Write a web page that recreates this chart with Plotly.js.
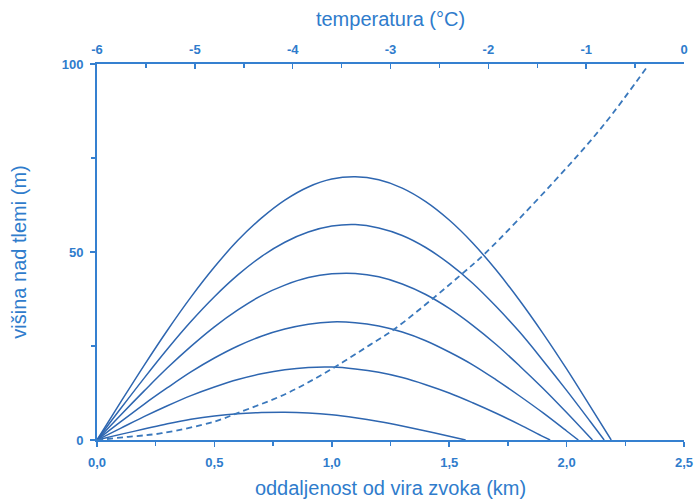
<!DOCTYPE html>
<html>
<head>
<meta charset="utf-8">
<script src="https://cdn.plot.ly/plotly-3.0.1.min.js"></script>
<style>html,body{margin:0;padding:0;background:#fff;}#chart{width:698px;height:502px;}</style>
</head>
<body>
<div id="chart"></div>
<script>
// Ray paths: distance (km) vs height (m)
const ray1X = [0,0.1,0.2,0.3,0.4,0.5,0.6,0.7,0.8,0.9,1.0,1.1,1.2,1.3,1.4,1.5,1.6,1.7,1.8,1.9,2.0,2.1,2.19];
const ray1Y = [0,10.0,19.8,29.2,38.0,46.0,53.1,59.0,63.8,67.3,69.4,70.0,69.2,67.0,63.4,58.5,52.4,45.2,37.1,28.3,18.9,9.0,0];
const ray2X = [0,0.1,0.2,0.3,0.4,0.5,0.6,0.7,0.8,0.9,1.0,1.1,1.2,1.3,1.4,1.5,1.6,1.7,1.8,1.9,2.0,2.1,2.16];
const ray2Y = [0,8.3,16.4,24.2,31.5,38.1,43.9,48.8,52.6,55.3,56.9,57.3,56.4,54.4,51.2,46.9,41.7,35.5,28.7,21.1,13.2,5.0,0];
const ray3X = [0,0.1,0.2,0.3,0.4,0.5,0.6,0.7,0.8,0.9,1.0,1.1,1.2,1.3,1.4,1.5,1.6,1.7,1.8,1.9,2.0,2.11];
const ray3Y = [0,6.6,13.0,19.2,24.9,30.1,34.6,38.4,41.2,43.2,44.2,44.3,43.4,41.5,38.7,35.0,30.5,25.4,19.7,13.7,7.3,0];
const ray4X = [0,0.1,0.2,0.3,0.4,0.5,0.6,0.7,0.8,0.9,1.0,1.1,1.2,1.3,1.4,1.5,1.6,1.7,1.8,1.9,2.0,2.05];
const ray4Y = [0,4.8,9.5,13.9,18.1,21.8,25.0,27.6,29.5,30.8,31.4,31.2,30.3,28.7,26.4,23.4,20.0,16.0,11.7,7.2,2.4,0];
const ray5X = [0,0.1,0.2,0.3,0.4,0.5,0.6,0.7,0.8,0.9,1.0,1.1,1.2,1.3,1.4,1.5,1.6,1.7,1.8,1.9,1.93];
const ray5Y = [0,3.1,6.2,9.1,11.8,14.1,16.1,17.6,18.7,19.3,19.4,18.9,18.0,16.6,14.7,12.5,9.9,7.1,4.1,0.9,0];
const ray6X = [0,0.1,0.2,0.3,0.4,0.5,0.6,0.7,0.8,0.9,1.0,1.1,1.2,1.3,1.4,1.5,1.57];
const ray6Y = [0,1.5,2.9,4.3,5.5,6.4,7.0,7.3,7.4,7.2,6.7,5.9,4.9,3.7,2.4,1.0,0];

// Temperature profile: temperature (°C) vs height (m)
const tempT = [-6,-5.7,-5.34,-4.8,-4.57,-4.06,-3.62,-3.21,-2.97,-2.55,-2.26,-2.03,-1.34,-0.83,-0.37];
const tempH = [0,0.8,1.8,4.9,7.1,12.4,18.6,25.3,29.3,38,44.4,49.7,68.4,83.5,99.5];

// Tick labels
const distTicks = [0,0.5,1.0,1.5,2.0,2.5];
const distLabels = ["0,0","0,5","1,0","1,5","2,0","2,5"];
const tempTicks = [-6,-5,-4,-3,-2,-1,0];
const tempLabels = ["-6","-5","-4","-3","-2","-1","0"];
const hTicks = [0,50,100];
const hLabels = ["0","50","100"];

const lineCol = "#2e66b0";
const axCol = "#3580d0";
const txtCol = "#2f7ccc";

const rays = [[ray1X,ray1Y],[ray2X,ray2Y],[ray3X,ray3Y],[ray4X,ray4Y],[ray5X,ray5Y],[ray6X,ray6Y]];
const traces = rays.map(r => ({
  x: r[0], y: r[1], type: "scatter", mode: "lines",
  line: {color: lineCol, width: 1.5, shape: "spline", smoothing: 1},
  xaxis: "x", yaxis: "y", hoverinfo: "skip"
}));
traces.push({
  x: tempT, y: tempH, type: "scatter", mode: "lines",
  line: {color: "#3a78bc", width: 1.8, dash: "6px,4px", shape: "spline", smoothing: 1},
  xaxis: "x2", yaxis: "y", hoverinfo: "skip"
});

const tickFont = {family: "Liberation Sans, Arial, sans-serif", size: 13, color: txtCol, weight: "bold"};
const titleFont = {family: "Liberation Sans, Arial, sans-serif", size: 20, color: txtCol};

const layout = {
  width: 698, height: 502,
  margin: {l: 97, r: 14, t: 64, b: 62},
  paper_bgcolor: "#fff", plot_bgcolor: "#fff",
  showlegend: false,
  xaxis: {
    range: [0, 2.5], tickmode: "array", tickvals: distTicks, ticktext: distLabels,
    showline: true, linecolor: axCol, linewidth: 2, mirror: false,
    ticks: "outside", ticklen: 5, tickwidth: 1.5, tickcolor: axCol,
    minor: {dtick: 0.25, tick0: 0, ticks: "outside", ticklen: 4, tickwidth: 1.5, tickcolor: axCol, showgrid: false},
    showgrid: false, zeroline: false, tickfont: tickFont, ticklabelstandoff: 4,
    title: {text: "oddaljenost od vira zvoka (km)", font: titleFont, standoff: 12}
  },
  xaxis2: {
    range: [-6, 0], overlaying: "x", side: "top", anchor: "y",
    tickmode: "array", tickvals: tempTicks, ticktext: tempLabels,
    showline: true, linecolor: axCol, linewidth: 2,
    ticks: "inside", ticklen: 5, tickwidth: 1.5, tickcolor: axCol,
    minor: {dtick: 0.5, tick0: 0, ticks: "inside", ticklen: 4, tickwidth: 1.5, tickcolor: axCol, showgrid: false},
    showgrid: false, zeroline: false, tickfont: tickFont, ticklabelstandoff: 3,
    title: {text: "temperatura (°C)", font: titleFont, standoff: 10}
  },
  yaxis: {
    range: [0, 100], tickmode: "array", tickvals: hTicks, ticktext: hLabels,
    showline: true, linecolor: axCol, linewidth: 2,
    ticks: "outside", ticklen: 5, tickwidth: 1.5, tickcolor: axCol,
    minor: {dtick: 25, tick0: 0, ticks: "outside", ticklen: 4, tickwidth: 1.5, tickcolor: axCol, showgrid: false},
    showgrid: false, zeroline: false, tickfont: tickFont, ticklabelstandoff: 4,
    title: {text: "višina nad tlemi (m)", font: titleFont, standoff: 30}
  }
};

Plotly.newPlot("chart", traces, layout, {staticPlot: true, displayModeBar: false});
</script>
</body>
</html>
